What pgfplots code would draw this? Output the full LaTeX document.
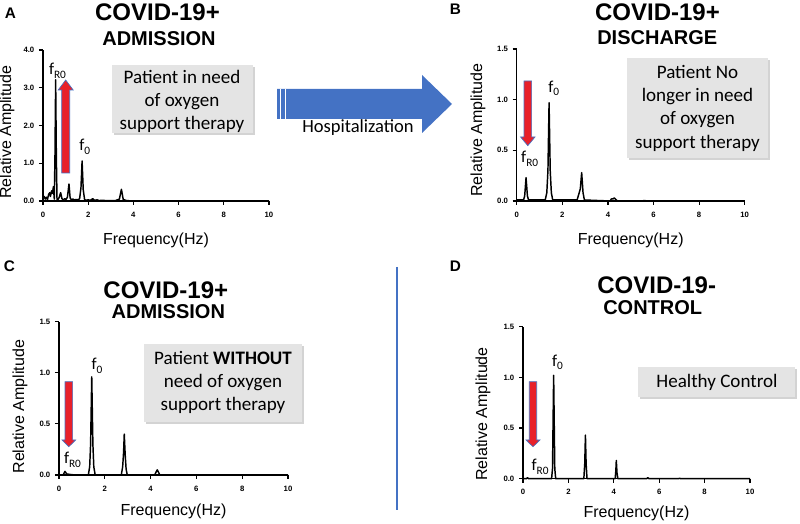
\documentclass[border=0pt]{standalone}
\usepackage{fontspec}
\setmainfont{Liberation Sans}
\newfontfamily\calfont{Carlito}
\usepackage{pgfplots}
\pgfplotsset{compat=1.18}
\usetikzlibrary{shadows}
\definecolor{offblue}{HTML}{4472C4}
\definecolor{arrred}{HTML}{E8202A}
\definecolor{boxgray}{HTML}{E4E4E4}

\pgfplotsset{panel/.style={
  scale only axis, anchor=south west,
  axis lines=left, axis line style={-, line width=1.1pt},
  xmin=0, xmax=10, ymin=0,
  xtick={0,2,4,6,8,10},
  tick align=outside, major tick length=3pt,
  tick style={black, line width=0.9pt},
  tick label style={font=\bfseries\fontsize{5.8}{6.5}\selectfont},
  /pgf/number format/assume math mode=true,
  yticklabel style={/pgf/number format/.cd, fixed, fixed zerofill, precision=1, assume math mode=true},
  xticklabel style={yshift=-1.5pt, /pgf/number format/.cd, fixed, precision=0, assume math mode=true},
  xlabel={Frequency(Hz)}, ylabel={Relative Amplitude},
  label style={font=\fontsize{12}{14}\selectfont},
  clip=false
}, spec/.style={black, line width=1.1pt, sharp plot, line join=round, mark=none}}

\newcommand{\fR}{f\raisebox{-0.45ex}{\fontsize{8.5}{9}\selectfont R0}}
\newcommand{\fO}{f\raisebox{-0.45ex}{\fontsize{8.5}{9}\selectfont 0}}

\begin{document}
\begin{tikzpicture}[x=0.75pt, y=0.75pt]
\path[use as bounding box] (0,0) rectangle (800,524);

% ---------------- Panel A ----------------
\begin{axis}[panel, at={(32.25pt,242.25pt)}, width=169.5pt, height=113.25pt,
  ymax=4, ytick={0,1,2,3,4},
  ylabel style={at={(axis description cs:-0.159,0.457)}, anchor=center},
  xlabel style={at={(axis description cs:0.5,-0.26)}, anchor=center}]
\addplot[spec] coordinates {
(0.00,0.05) (0.05,0.12) (0.10,0.05) (0.15,0.10) (0.20,0.04) (0.25,0.18)
(0.30,0.22) (0.33,0.12) (0.38,0.27) (0.42,0.20) (0.46,0.38) (0.50,0.05)
(0.53,1.20) (0.56,3.21) (0.59,1.20) (0.62,0.04) (0.68,0.05) (0.72,0.10)
(0.78,0.22) (0.84,0.06) (0.90,0.03) (0.96,0.06) (1.02,0.04) (1.08,0.10)
(1.15,0.45) (1.20,0.08) (1.26,0.03) (1.32,0.05) (1.40,0.03) (1.48,0.04)
(1.55,0.03) (1.62,0.06) (1.68,0.35) (1.73,1.06) (1.78,0.30) (1.84,0.04)
(1.90,0.02) (2.00,0.03) (2.10,0.02) (2.20,0.06) (2.28,0.02) (2.40,0.03)
(2.50,0.01) (2.60,0.02) (2.80,0.01) (3.00,0.01) (3.20,0.01) (3.38,0.05)
(3.47,0.31) (3.55,0.04) (3.70,0.01) (4.00,0.00) (10.0,0.00)
};
\end{axis}

% ---------------- Panel B ----------------
\begin{axis}[panel, at={(387.525pt,242.25pt)}, width=171pt, height=114pt,
  ymax=1.5, ytick={0,0.5,1,1.5},
  ylabel style={at={(axis description cs:-0.17,0.467)}, anchor=center},
  xlabel style={at={(axis description cs:0.5,-0.26)}, anchor=center}]
\addplot[spec] coordinates {
(0.00,0.01) (0.30,0.01) (0.35,0.05) (0.41,0.23) (0.47,0.05) (0.52,0.01)
(1.25,0.01) (1.32,0.08) (1.37,0.30) (1.42,0.97) (1.47,0.30) (1.52,0.08)
(1.58,0.01) (2.65,0.01) (2.70,0.05) (2.74,0.08) (2.79,0.12) (2.85,0.28)
(2.91,0.08) (2.97,0.01) (4.10,0.00) (4.15,0.02) (4.22,0.02) (4.28,0.03)
(4.35,0.015) (4.42,0.00) (5.50,0.00) (5.60,0.005) (5.70,0.00) (10.0,0.00)
};
\end{axis}

% ---------------- Panel C ----------------
\begin{axis}[panel, at={(44.25pt,36.75pt)}, width=171.75pt, height=115pt,
  ymax=1.5, ytick={0,0.5,1,1.5},
  ylabel style={at={(axis description cs:-0.17,0.445)}, anchor=center},
  xlabel style={at={(axis description cs:0.5,-0.24)}, anchor=center}]
\addplot[spec] coordinates {
(0.00,0.00) (0.18,0.00) (0.26,0.035) (0.34,0.01) (0.50,0.005) (0.70,0.00)
(1.28,0.00) (1.34,0.08) (1.38,0.30) (1.43,0.96) (1.48,0.30) (1.52,0.08)
(1.58,0.00) (2.72,0.00) (2.78,0.08) (2.82,0.22) (2.85,0.40) (2.89,0.20)
(2.93,0.06) (2.98,0.00) (4.18,0.00) (4.24,0.03) (4.29,0.05) (4.34,0.03)
(4.40,0.00) (10.0,0.00)
};
\end{axis}

% ---------------- Panel D ----------------
\begin{axis}[panel, at={(392.25pt,33.975pt)}, width=170.25pt, height=114pt,
  ymax=1.5, ytick={0,0.5,1,1.5},
  ylabel style={at={(axis description cs:-0.176,0.426)}, anchor=center},
  xlabel style={at={(axis description cs:0.5,-0.225)}, anchor=center}]
\addplot[spec] coordinates {
(0.00,0.00) (0.15,0.00) (0.20,0.01) (0.25,0.00) (1.26,0.00) (1.30,0.10)
(1.35,1.02) (1.40,0.10) (1.44,0.00) (2.68,0.00) (2.72,0.15) (2.75,0.43)
(2.78,0.15) (2.82,0.00) (4.06,0.00) (4.09,0.08) (4.11,0.18) (4.14,0.06)
(4.18,0.00) (5.45,0.00) (5.50,0.01) (5.55,0.00) (6.85,0.00) (6.90,0.005)
(6.95,0.00) (10.0,0.00)
};
\end{axis}

% ---------------- Panel letters ----------------
\begin{scope}[every node/.style={font=\bfseries\fontsize{11.5}{12}\selectfont, inner sep=0pt}]
\node at (10.3,511.2) {A};
\node at (455.5,514.3) {B};
\node at (9.5,258.2) {C};
\node at (455.5,258.2) {D};
\end{scope}

% ---------------- Titles ----------------
\begin{scope}[every node/.style={inner sep=0pt}]
\node[font=\bfseries\fontsize{18}{20}\selectfont] at (157.5,512) {COVID-19+};
\node[font=\bfseries\fontsize{15}{17}\selectfont] at (159,485.7) {ADMISSION};
\node[font=\bfseries\fontsize{18}{20}\selectfont] at (657.5,512) {COVID-19+};
\node[font=\bfseries\fontsize{15}{17}\selectfont] at (657.3,486.2) {DISCHARGE};
\node[font=\bfseries\fontsize{18}{20}\selectfont] at (165.8,234.2) {COVID-19+};
\node[font=\bfseries\fontsize{15}{17}\selectfont] at (168.3,212.3) {ADMISSION};
\node[font=\bfseries\fontsize{18}{20}\selectfont] at (656.7,238.3) {COVID-19-};
\node[font=\bfseries\fontsize{15}{17}\selectfont] at (652.7,216.5) {CONTROL};
\end{scope}

% ---------------- Grey boxes ----------------
\begin{scope}[box/.style={fill=boxgray, draw=none, drop shadow={shadow xshift=1.5pt, shadow yshift=-1.5pt, opacity=0.35}}]
\path[box] (112,391) rectangle (253,459);
\path[box] (627,366) rectangle (768,466);
\path[box] (144,102) rectangle (302,180);
\path[box] (638,127) rectangle (795,157);
\end{scope}
\begin{scope}[every node/.style={font=\calfont\fontsize{14.3}{17.5}\selectfont, align=center, inner sep=0pt}]
\node at (182,422.5) {Patient in need\\of oxygen\\support therapy};
\node at (697.5,416) {Patient No\\longer in need\\of oxygen\\support therapy};
\node at (223,141.5) {Patient \textbf{WITHOUT}\\need of oxygen\\support therapy};
\node at (717,141.3) {Healthy Control};
\end{scope}

% ---------------- Big arrow ----------------
\fill[offblue] (277,405) -- (422,405) -- (422,391) -- (452,420) -- (422,449) -- (422,435) -- (277,435) -- cycle;
\draw[white, line width=0.6pt] (280.7,405) -- (280.7,435);
\draw[white, line width=0.6pt] (285.3,405) -- (285.3,435);
\node[font=\calfont\fontsize{13.9}{15}\selectfont, inner sep=0pt] at (358,396) {Hospitalization};

% ---------------- Vertical separator ----------------
\draw[offblue, line width=2.2pt] (397,257) -- (397,14);

% ---------------- Red arrows ----------------
\begin{scope}[every path/.style={fill=arrred, draw=offblue, line width=0.5pt, line join=miter}]
\path (61.7,351) -- (69.7,351) -- (69.7,434) -- (73.2,434) -- (65.7,444) -- (58.2,434) -- (61.7,434) -- cycle;
\path (524,443) -- (531.6,443) -- (531.6,387) -- (535,387) -- (527.8,378.3) -- (520.6,387) -- (524,387) -- cycle;
\path (65,142.3) -- (72.6,142.3) -- (72.6,84) -- (75.6,84) -- (68.8,77.3) -- (62,84) -- (65,84) -- cycle;
\path (529.3,142.3) -- (536.7,142.3) -- (536.7,84) -- (540,84) -- (533,77.3) -- (526,84) -- (529.3,84) -- cycle;
\end{scope}

% ---------------- Peak labels ----------------
\begin{scope}[every node/.style={font=\calfont\fontsize{12.5}{13}\selectfont, inner sep=0pt}]
\node at (57.5,453) {\fR};
\node at (84.8,377) {\fO};
\node at (553.7,435.7) {\fO};
\node at (529.7,365) {\fR};
\node at (97,158.3) {\fO};
\node at (72.5,64) {\fR};
\node at (557.5,161.5) {\fO};
\node at (540,57.3) {\fR};
\end{scope}
\end{tikzpicture}
\end{document}
